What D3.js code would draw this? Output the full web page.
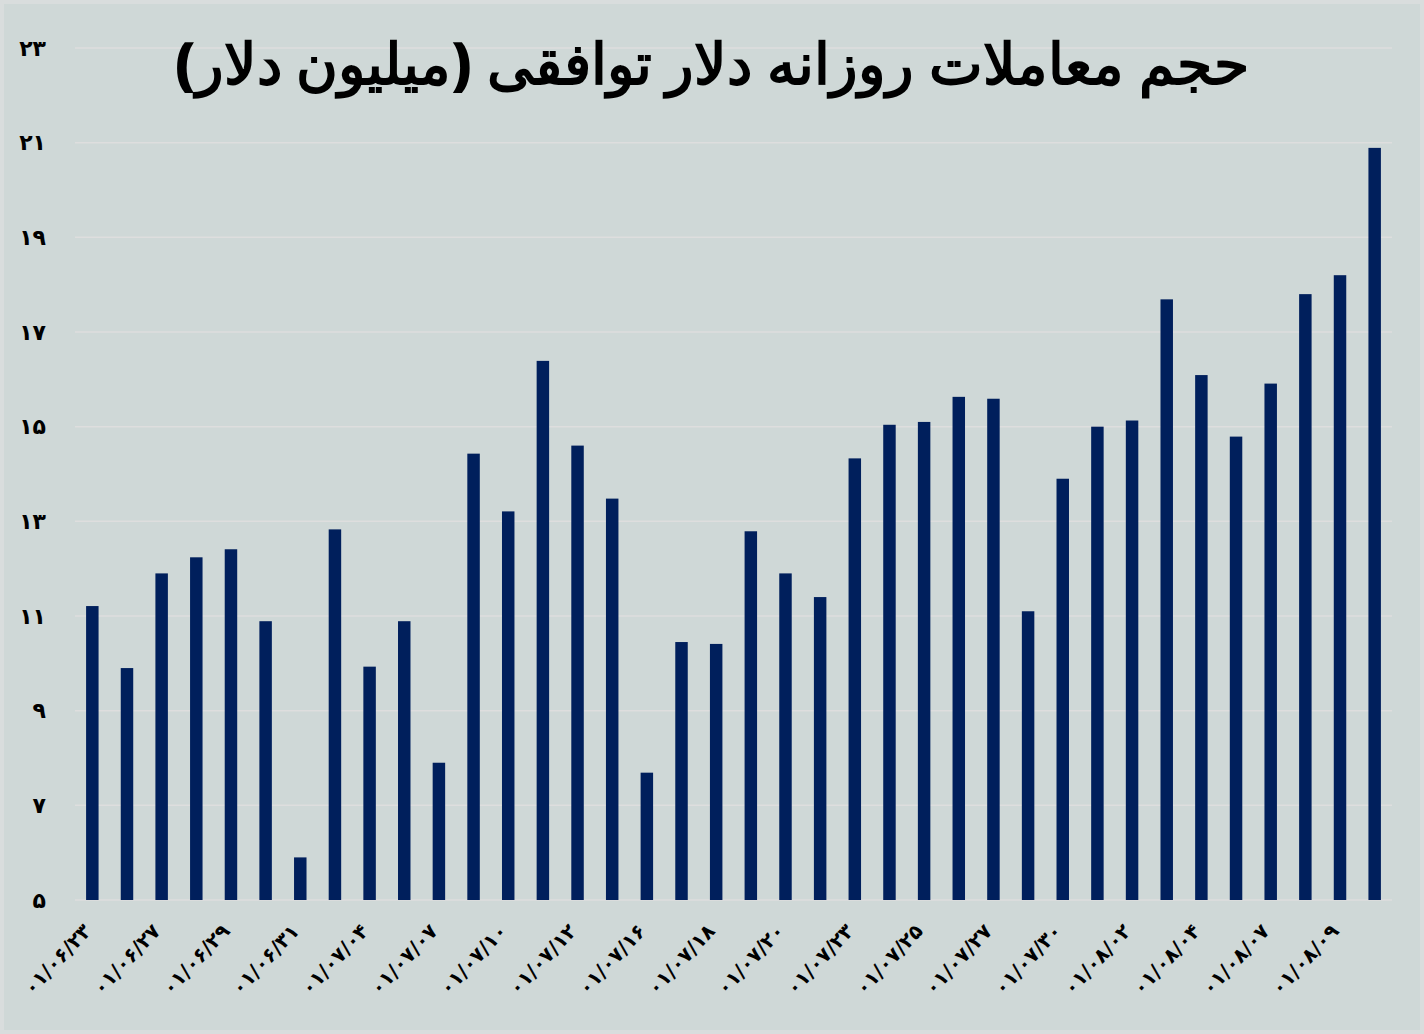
<!DOCTYPE html>
<html><head><meta charset="utf-8">
<script src="https://cdn.jsdelivr.net/npm/d3@7"></script>
<style>body{margin:0;background:#d9dddd}svg{display:block}</style>
</head><body>
<script>
const categories=["۰۱/۰۶/۲۳","۰۱/۰۶/۲۶","۰۱/۰۶/۲۷","۰۱/۰۶/۲۸","۰۱/۰۶/۲۹","۰۱/۰۶/۳۰","۰۱/۰۶/۳۱","۰۱/۰۷/۰۳","۰۱/۰۷/۰۴","۰۱/۰۷/۰۵","۰۱/۰۷/۰۷","۰۱/۰۷/۰۹","۰۱/۰۷/۱۰","۰۱/۰۷/۱۱","۰۱/۰۷/۱۲","۰۱/۰۷/۱۳","۰۱/۰۷/۱۶","۰۱/۰۷/۱۷","۰۱/۰۷/۱۸","۰۱/۰۷/۱۹","۰۱/۰۷/۲۰","۰۱/۰۷/۲۱","۰۱/۰۷/۲۳","۰۱/۰۷/۲۴","۰۱/۰۷/۲۵","۰۱/۰۷/۲۶","۰۱/۰۷/۲۷","۰۱/۰۷/۲۸","۰۱/۰۷/۳۰","۰۱/۰۸/۰۱","۰۱/۰۸/۰۲","۰۱/۰۸/۰۳","۰۱/۰۸/۰۴","۰۱/۰۸/۰۵","۰۱/۰۸/۰۷","۰۱/۰۸/۰۸","۰۱/۰۸/۰۹","۰۱/۰۸/۱۰"];
const values=[11.21,9.9,11.9,12.24,12.41,10.89,5.9,12.83,9.93,10.89,7.9,14.43,13.21,16.39,14.6,13.48,7.69,10.45,10.41,12.79,11.9,11.4,14.33,15.04,15.1,15.63,15.59,11.1,13.9,15.0,15.13,17.69,16.09,14.79,15.91,17.8,18.2,20.89];
const yTicks=[5,7,9,11,13,15,17,19,21,23];
const title="حجم معاملات روزانه دلار توافقی (میلیون دلار)";
const fa=n=>String(n).replace(/\d/g,d=>"۰۱۲۳۴۵۶۷۸۹"[d]);

const W=1424,H=1034;
const svg=d3.select("body").append("svg").attr("width",W).attr("height",H);
svg.append("rect").attr("x",4).attr("y",4).attr("width",W-8).attr("height",H-8).attr("fill","#cfd8d7");
const x=d3.scaleBand().domain(categories).range([75,1392]).paddingInner(0.64).paddingOuter(0.32);
const y=d3.scaleLinear().domain([5,23]).range([900,48]);
const font="'DejaVu Sans', 'Noto Sans', sans-serif";
svg.append("g").selectAll("line").data(yTicks).join("line")
 .attr("x1",75).attr("x2",1392).attr("y1",d=>y(d)).attr("y2",d=>y(d))
 .attr("stroke","#dedede").attr("stroke-width",1.5);
svg.append("g").selectAll("text").data(yTicks).join("text")
 .attr("x",46).attr("y",d=>y(d)).attr("dy","0.35em").attr("text-anchor","end")
 .attr("font-family",font).attr("font-size",22).attr("font-weight","bold").text(d=>fa(d));
svg.append("g").selectAll("rect").data(values).join("rect")
 .attr("x",(d,i)=>x(categories[i])).attr("width",x.bandwidth())
 .attr("y",d=>y(d)).attr("height",d=>y(5)-y(d)).attr("fill","#001f5c");
svg.append("g").selectAll("text").data(categories.filter((d,i)=>i%2===0)).join("text")
 .attr("transform",d=>`translate(${x(d)+x.bandwidth()/2},${932}) rotate(-47)`)
 .attr("text-anchor","end").attr("direction","ltr").attr("font-family",font).attr("font-size",20).attr("font-weight","bold")
 .text(d=>d);
svg.append("text").attr("x",712).attr("y",84).attr("text-anchor","middle").attr("direction","rtl")
 .attr("font-family","'Noto Sans', sans-serif").attr("font-size",57).attr("font-weight","900").text(title);
</script>
</body></html>
